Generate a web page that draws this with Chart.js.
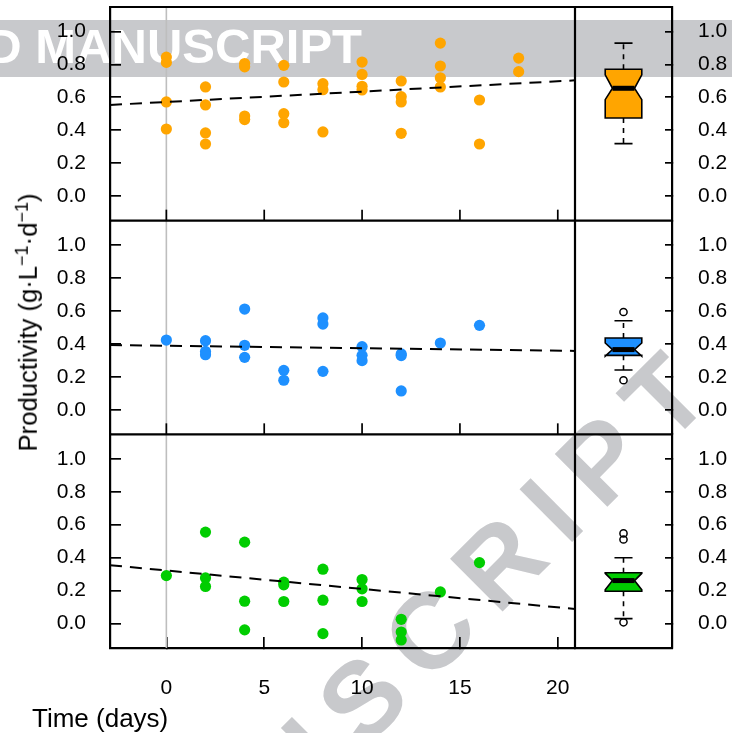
<!DOCTYPE html>
<html><head><meta charset="utf-8">
<script src="https://cdn.jsdelivr.net/npm/chart.js@4"></script>
<style>
html,body{margin:0;padding:0;background:#fff;}
body{width:732px;height:733px;position:relative;overflow:hidden;font-family:"Liberation Sans",Arial,sans-serif;}
#band{position:absolute;left:0;top:20px;width:732px;height:57px;background:rgb(200,201,204);}
#bandText{position:absolute;right:370px;top:1.5px;font:bold 49px/49px "Liberation Sans",Arial,sans-serif;color:#fff;white-space:nowrap;}
#wm{position:absolute;left:713.5px;top:399.6px;width:0;height:0;transform:rotate(-45deg);transform-origin:0 0;}
#wm span{position:absolute;right:-20px;top:-91.4px;font-family:"Liberation Sans",Arial,sans-serif;font-weight:700;font-size:108px;line-height:108px;letter-spacing:20px;color:rgb(200,201,204);white-space:nowrap;}
canvas{position:absolute;left:0;top:0;}
#ytitle{position:absolute;left:0;top:0;width:400px;text-align:center;font:25.7px/30px "Liberation Sans",Arial,sans-serif;white-space:nowrap;transform-origin:0 0;transform:translate(12.8px,522.5px) rotate(-90deg);color:#000;}
#ytitle .sup{font-size:0.7em;position:relative;top:-0.5em;}
#xtitle{position:absolute;left:32px;top:702.7px;font:26px/30px "Liberation Sans",Arial,sans-serif;white-space:nowrap;color:#000;}
</style>
</head>
<body>
<div id="band"><div id="bandText">ACCEPTED MANUSCRIPT</div></div>
<div id="wm"><span>ACCEPTED MANUSCRIPT</span></div>
<canvas id="c" width="732" height="733"></canvas>
<div id="ytitle">Productivity (g·L<span class="sup">−1</span>·d<span class="sup">−1</span>)</div>
<div id="xtitle">Time (days)</div>
<script>
// ---------- data ----------
const timeOrange = [0,0,0,0, 2,2,2,2, 4,4,4,4, 6,6,6,6, 8,8,8, 10,10,10,10, 12,12,12,12, 14,14,14,14, 16,16, 18,18];
const prodOrange = [0.844,0.812,0.572,0.408, 0.663,0.554,0.384,0.317, 0.805,0.785,0.487,0.465, 0.794,0.693,0.501,0.446, 0.683,0.646,0.390, 0.814,0.739,0.667,0.645, 0.699,0.604,0.572,0.382, 0.929,0.790,0.719,0.663, 0.584,0.317, 0.838,0.756];

const timeBlue = [0, 2,2,2, 4,4,4, 6,6, 8,8,8, 10,10,10, 12,12,12, 14, 16];
const prodBlue = [0.424, 0.420,0.355,0.335, 0.612,0.392,0.319, 0.240,0.180, 0.558,0.521,0.234, 0.384,0.331,0.299, 0.340,0.330,0.115, 0.406, 0.513];

const timeGreen = [0, 2,2,2, 4,4,4, 6,6,6, 8,8,8, 10,10,10, 12,12,12, 14, 16];
const prodGreen = [0.291, 0.555,0.277,0.225, 0.494,0.136,-0.038, 0.251,0.235,0.134, 0.330,0.142,-0.061, 0.267,0.211,0.134, 0.026,-0.051,-0.099, 0.192, 0.370];

// dashed trend lines (values at the panel edges)
const trendTime   = [-2.88, 20.88];
const trendOrange = [0.554, 0.703];
const trendBlue   = [0.394, 0.358];
const trendGreen  = [0.354, 0.089];

// vertical reference line
const refLineTime = [0];

// boxplot summaries (orange, blue, green)
const boxLow     = [0.319, 0.242, 0.030];
const boxQ1      = [0.475, 0.331, 0.196];
const boxMedian  = [0.655, 0.366, 0.261];
const boxQ3      = [0.770, 0.436, 0.308];
const boxHigh    = [0.929, 0.541, 0.399];
const boxNotchLo = [0.586, 0.326, 0.205];
const boxNotchHi = [0.737, 0.406, 0.305];
const boxOutliers = [[], [0.594, 0.180], [0.547, 0.510, 0.008]];

// ticks
const xTicks = [0, 5, 10, 15, 20];
const xTickLabels = ['0', '5', '10', '15', '20'];
const yTicks = [0, 0.2, 0.4, 0.6, 0.8, 1.0];
const yTickLabels = ['0.0', '0.2', '0.4', '0.6', '0.8', '1.0'];

// ---------- styling ----------
const colors = ['#FFA500', '#1E90FF', '#00CD00'];
const leftIds = ['y1', 'y2', 'y3'];
const rightIds = ['r1', 'r2', 'r3'];
const Y_MIN = -0.148, Y_MAX = 1.148;
const X_MIN = -2.88, X_MAX = 20.88;
const BOX_X = 1, BOX_HW = 0.377, BOX_NARROW = 0.227, CAP_HW = 0.186;
const FRAME_W = 2.2, TICK_W = 1.7;

Chart.defaults.font.family = '"Liberation Sans", Arial, sans-serif';
Chart.defaults.color = '#000';

const pts = (xs, ys) => xs.map((x, i) => ({x, y: ys[i]}));
const series = [[timeOrange, prodOrange, trendOrange], [timeBlue, prodBlue, trendBlue], [timeGreen, prodGreen, trendGreen]];

const datasets = [];
series.forEach((s, i) => {
  datasets.push({
    type: 'line', data: pts(trendTime, s[2]), xAxisID: 'x', yAxisID: leftIds[i],
    borderColor: '#000', borderWidth: 2, borderDash: [12, 8], pointRadius: 0, fill: false, order: 0
  });
  datasets.push({
    type: 'scatter', data: pts(s[0], s[1]), xAxisID: 'x', yAxisID: leftIds[i],
    backgroundColor: colors[i], borderColor: colors[i], borderWidth: 0, pointRadius: 5.6, order: 1
  });
});

function yScale(pos, weight) {
  const left = pos === 'left';
  return {
    type: 'linear', position: pos, stack: left ? 'L' : 'R', stackWeight: 1, weight,
    min: Y_MIN, max: Y_MAX,
    afterBuildTicks: s => { s.ticks = yTicks.map(v => ({value: v})); },
    afterFit: s => { s.width = left ? 110 : 60; s.paddingTop = 0; s.paddingBottom = 0; s.paddingLeft = 0; s.paddingRight = 0; },
    grid: {drawOnChartArea: false, drawTicks: true, tickLength: left ? -11 : -7, color: '#000', lineWidth: TICK_W},
    border: {display: true, color: '#000', width: FRAME_W},
    ticks: {padding: left ? 35 : 33, color: '#000', font: {size: 21}, autoSkip: false, callback: (v, i) => yTickLabels[i]}
  };
}

const scales = {
  x: {
    type: 'linear', position: 'bottom', stack: 'B', stackWeight: 465, weight: 1,
    min: X_MIN, max: X_MAX,
    afterBuildTicks: s => { s.ticks = xTicks.map(v => ({value: v})); },
    afterFit: s => { s.height = 85; s.paddingLeft = 0; s.paddingRight = 0; s.paddingTop = 0; s.paddingBottom = 0; },
    grid: {drawOnChartArea: false, drawTicks: true, tickLength: -11, color: '#000', lineWidth: TICK_W},
    border: {display: true, color: '#000', width: FRAME_W},
    ticks: {padding: 39, color: '#000', font: {size: 21}, maxRotation: 0, autoSkip: false, callback: (v, i) => xTickLabels[i]}
  },
  xb: {
    type: 'linear', position: 'bottom', stack: 'B', stackWeight: 97, weight: 2,
    min: 0, max: 2,
    afterFit: s => { s.height = 85; s.paddingLeft = 0; s.paddingRight = 0; s.paddingTop = 0; s.paddingBottom = 0; },
    grid: {display: false},
    border: {display: true, color: '#000', width: FRAME_W},
    ticks: {display: false}
  }
};
leftIds.forEach((id, i) => { scales[id] = yScale('left', 3 - i); });
rightIds.forEach((id, i) => { scales[id] = yScale('right', i + 1); });

const panelPlugin = {
  id: 'panels',
  beforeDatasetsDraw(chart) {
    const {ctx, chartArea, scales: sc} = chart;
    ctx.save();
    ctx.strokeStyle = '#BEBEBE';
    ctx.lineWidth = 1.6;
    refLineTime.forEach(v => {
      const px = sc.x.getPixelForValue(v);
      ctx.beginPath(); ctx.moveTo(px, chartArea.top); ctx.lineTo(px, chartArea.bottom); ctx.stroke();
    });
    ctx.restore();
  },
  afterDatasetsDraw(chart) {
    const {ctx, chartArea, scales: sc} = chart;
    const xb = sc.xb;
    ctx.save();
    rightIds.forEach((id, i) => {
      const ys = sc[id];
      const cx = xb.getPixelForValue(BOX_X);
      const L = xb.getPixelForValue(BOX_X - BOX_HW), R = xb.getPixelForValue(BOX_X + BOX_HW);
      const nd = xb.getPixelForValue(BOX_X + BOX_HW) - xb.getPixelForValue(BOX_X + BOX_NARROW);
      const capL = xb.getPixelForValue(BOX_X - CAP_HW), capR = xb.getPixelForValue(BOX_X + CAP_HW);
      const q1 = ys.getPixelForValue(boxQ1[i]), q3 = ys.getPixelForValue(boxQ3[i]);
      const md = ys.getPixelForValue(boxMedian[i]);
      const nl = ys.getPixelForValue(boxNotchLo[i]), nh = ys.getPixelForValue(boxNotchHi[i]);
      const lo = ys.getPixelForValue(boxLow[i]), hi = ys.getPixelForValue(boxHigh[i]);
      ctx.lineWidth = 1.6; ctx.strokeStyle = '#000';
      ctx.setLineDash([5, 5]);
      ctx.beginPath(); ctx.moveTo(cx, q3); ctx.lineTo(cx, hi); ctx.moveTo(cx, q1); ctx.lineTo(cx, lo); ctx.stroke();
      ctx.setLineDash([]);
      ctx.beginPath(); ctx.moveTo(capL, hi); ctx.lineTo(capR, hi); ctx.moveTo(capL, lo); ctx.lineTo(capR, lo); ctx.stroke();
      ctx.beginPath();
      ctx.moveTo(L, q1); ctx.lineTo(L, nl); ctx.lineTo(L + nd, md); ctx.lineTo(L, nh); ctx.lineTo(L, q3);
      ctx.lineTo(R, q3); ctx.lineTo(R, nh); ctx.lineTo(R - nd, md); ctx.lineTo(R, nl); ctx.lineTo(R, q1);
      ctx.closePath();
      ctx.fillStyle = colors[i]; ctx.fill();
      ctx.lineJoin = 'miter'; ctx.stroke();
      ctx.lineWidth = 5; ctx.lineCap = 'butt';
      ctx.beginPath(); ctx.moveTo(L + nd, md); ctx.lineTo(R - nd, md); ctx.stroke();
      ctx.lineWidth = 1.5;
      boxOutliers[i].forEach(v => {
        const py = ys.getPixelForValue(v);
        ctx.beginPath(); ctx.arc(cx, py, 3.6, 0, Math.PI * 2); ctx.stroke();
      });
    });
    ctx.lineWidth = TICK_W; ctx.strokeStyle = '#000';
    ['y1', 'y2'].forEach(id => {
      const b = sc[id].bottom;
      xTicks.forEach(v => {
        const px = sc.x.getPixelForValue(v);
        ctx.beginPath(); ctx.moveTo(px, b); ctx.lineTo(px, b - 11); ctx.stroke();
      });
    });
    ctx.lineWidth = FRAME_W;
    ctx.beginPath();
    ctx.moveTo(chartArea.left, chartArea.top); ctx.lineTo(chartArea.right, chartArea.top);
    ['y1', 'y2'].forEach(id => { const b = sc[id].bottom; ctx.moveTo(chartArea.left, b); ctx.lineTo(chartArea.right, b); });
    ctx.moveTo(xb.left, chartArea.top); ctx.lineTo(xb.left, chartArea.bottom);
    ctx.stroke();
    ctx.restore();
  }
};

new Chart(document.getElementById('c'), {
  data: {datasets},
  options: {
    responsive: false, animation: false,
    layout: {padding: {top: 7, left: 0, right: 0, bottom: 0}},
    plugins: {legend: {display: false}, tooltip: {enabled: false}},
    scales
  },
  plugins: [panelPlugin]
});
</script>
</body></html>
